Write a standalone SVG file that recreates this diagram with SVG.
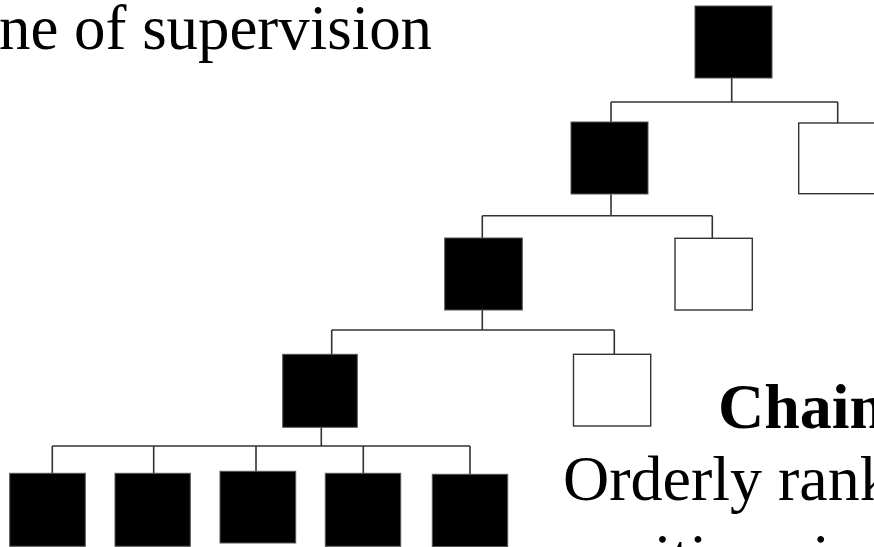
<svg xmlns="http://www.w3.org/2000/svg" width="874" height="547" viewBox="0 0 874 547">
<style>
.t{font-family:"Liberation Serif","Times New Roman",serif;font-size:64px;fill:#000}
.b{font-weight:bold}
.blk{fill:#000;stroke:#555;stroke-width:1}
.wht{fill:#fff;stroke:#333;stroke-width:1.4}
.ln{fill:none;stroke:#333;stroke-width:1.6}
</style>
<rect width="874" height="547" fill="#fff"/>
<g id="connectors">
<path class="ln" d="M731.7 78V102M611 102H837.7M611 102V122M837.7 102V123"/>
<path class="ln" d="M611 194V215.7M482.3 215.7H712.3M482.3 215.7V238M712.3 215.7V238"/>
<path class="ln" d="M482.3 310V330M331.7 330H614.3M331.7 330V354.3M614.3 330V354.3"/>
<path class="ln" d="M321.3 427.3V446M52.3 446H470M52.3 446V473.3M153.7 446V473.3M256 446V471.3M363.3 446V473.3M470 446V474.3"/>
</g>
<g id="n1"><rect class="blk" x="695" y="6" width="77" height="72"/></g>
<g id="n2"><rect class="blk" x="571" y="122" width="77" height="72"/></g>
<g id="n3"><rect class="wht" x="798.7" y="123" width="90" height="70.7"/></g>
<g id="n4"><rect class="blk" x="444.7" y="238" width="77.6" height="72"/></g>
<g id="n5"><rect class="wht" x="675" y="238.3" width="77.3" height="71.7"/></g>
<g id="n6"><rect class="blk" x="282.7" y="354.3" width="74.6" height="73"/></g>
<g id="n7"><rect class="wht" x="573.5" y="354.3" width="77.2" height="71.7"/></g>
<g id="n8"><rect class="blk" x="9.7" y="473.3" width="75.6" height="73"/></g>
<g id="n9"><rect class="blk" x="115" y="473.3" width="75.3" height="73"/></g>
<g id="n10"><rect class="blk" x="220" y="471.3" width="75.7" height="71.7"/></g>
<g id="n11"><rect class="blk" x="325.3" y="473.3" width="75.4" height="73"/></g>
<g id="n12"><rect class="blk" x="432.3" y="474.3" width="75.4" height="72.4"/></g>
<g id="labels">
<text class="t" x="-1" y="49" font-size="63" textLength="433" lengthAdjust="spacingAndGlyphs">ne of supervision</text>
<text class="t b" x="718" y="428">Chain</text>
<text class="t" x="563" y="500">Orderly rank</text>
<text class="t" x="565" y="578">positions in</text>
</g>
</svg>
